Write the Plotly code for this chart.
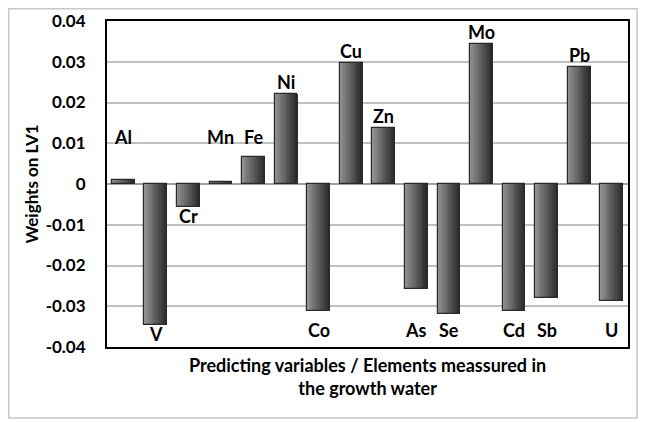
import plotly.graph_objects as go

elements = ["Al", "V", "Cr", "Mn", "Fe", "Ni", "Co", "Cu", "Zn", "As", "Se", "Mo", "Cd", "Sb", "Pb", "U"]
weights = [0.0010, -0.0346, -0.0056, 0.0005, 0.0066, 0.0222, -0.0312, 0.0298, 0.0138,
           -0.0258, -0.0319, 0.0344, -0.0312, -0.0280, 0.0288, -0.0287]
y_ticks = [0.04, 0.03, 0.02, 0.01, 0, -0.01, -0.02, -0.03, -0.04]
y_tick_text = ["0.04", "0.03", "0.02", "0.01", "0", "-0.01", "-0.02", "-0.03", "-0.04"]
y_title = "Weights on LV1"
x_title = "Predicting variables / Elements meassured in<br>the growth water"

FONT = "Lato"
xs = list(range(len(elements)))
W = 0.7
N = 12

def shade(i):
    # light on left, dark on right
    c0, c1 = 0x90, 0x2c
    v = int(round(c0 + (c1 - c0) * i / (N - 1)))
    return f"rgb({v},{v},{v})"

fig = go.Figure()
for i in range(N):
    fig.add_trace(go.Bar(
        x=xs, y=weights, width=W / N + 0.002, offset=-W / 2 + i * W / N,
        marker=dict(color=shade(i), line=dict(width=0)),
        showlegend=False, hoverinfo="skip"))
fig.add_trace(go.Bar(
    x=xs, y=weights, width=W, offset=-W / 2,
    marker=dict(color="rgba(0,0,0,0)", line=dict(color="#2a2a2a", width=1.2)),
    showlegend=False, customdata=elements, hovertemplate="%{customdata}: %{y}<extra></extra>"))

LBL = 18
annotations = []
for x, name, v in zip(xs, elements, weights):
    if v >= 0:
        annotations.append(dict(x=x, y=max(v, 0.0085), text=f"<b>{name}</b>", showarrow=False,
                                yanchor="bottom", yshift=-1, xref="x", yref="y",
                                font=dict(family=FONT, size=LBL, color="black")))
    else:
        yy = v if v > -0.02 else min(v, -0.0335)
        annotations.append(dict(x=x, y=yy, text=f"<b>{name}</b>", showarrow=False,
                                yanchor="top", yshift=4, xref="x", yref="y",
                                font=dict(family=FONT, size=LBL, color="black")))

annotations.append(dict(x=0.5, y=-0.089, xref="paper", yref="paper", text=f"<b>{x_title}</b>",
                        showarrow=False, yanchor="middle", xanchor="center",
                        font=dict(family=FONT, size=18, color="black")))

# the page body has an 8px default margin, so the figure is laid out 8px smaller
OFF = 8
FW, FH = 649 - OFF, 422 - OFF
L, R, T, B = 107 - OFF, 628 - OFF, 21 - OFF, 347 - OFF
pw, ph = R - L, B - T

def px_x(p):
    return (p - L) / pw

def px_y(p):
    return (B - p) / ph

fig.update_layout(
    template="none",
    width=FW, height=FH,
    margin=dict(l=L, r=FW - R, t=T, b=FH - B, pad=0),
    paper_bgcolor="white", plot_bgcolor="white",
    barmode="overlay", bargap=0,
    font=dict(family=FONT, size=17, color="black"),
    xaxis=dict(range=[-0.5, len(elements) - 0.5], showticklabels=False, ticks="",
               showgrid=False, zeroline=False, showline=True, mirror=True,
               linecolor="black", linewidth=2, automargin=False),
    yaxis=dict(range=[-0.04, 0.04], tickvals=y_ticks,
               ticktext=[f"<b>{t}</b>" for t in y_tick_text],
               tickfont=dict(family=FONT, size=17, color="black"),
               showgrid=True, gridcolor="#c0c0c0", gridwidth=1.5,
               zeroline=True, zerolinecolor="#a0a0a0", zerolinewidth=1.5,
               showline=True, mirror=True, linecolor="black", linewidth=2,
               ticks="", ticklabelstandoff=16, automargin=False,
               title=dict(text=f"<b>{y_title}</b>", font=dict(family=FONT, size=17), standoff=3)),
    annotations=annotations,
    shapes=[dict(type="rect", xref="paper", yref="paper",
                 x0=px_x(0.75), x1=px_x(637 - OFF), y0=px_y(418 - OFF), y1=px_y(0.75),
                 line=dict(color="#c8c8c8", width=1.5), fillcolor="rgba(0,0,0,0)", layer="below")],
)

fig.write_html("out.html")
